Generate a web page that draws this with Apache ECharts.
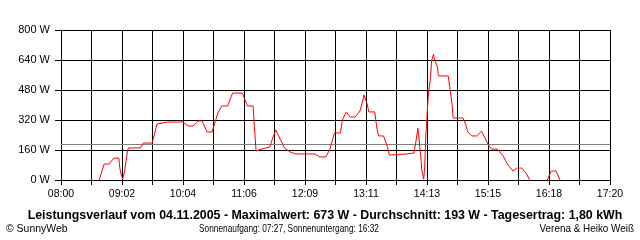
<!DOCTYPE html>
<html>
<head>
<meta charset="utf-8">
<script src="https://cdn.jsdelivr.net/npm/echarts@6/dist/echarts.min.js"></script>
<style>html,body{margin:0;padding:0;background:#fff}#c{width:640px;height:240px}</style>
</head>
<body>
<div id="c"></div>
<script>
// Tick labels on x axis (every second grid line)
var xTickLabels = ['08:00','09:02','10:04','11:06','12:09','13:11','14:13','15:15','16:18','17:20'];
var startMin = 8 * 60, endMin = 17 * 60 + 20, gridSteps = 18;
// Power readings (time, watts); null = gap in the record
var times = ['08:39','08:44','08:49','08:54','08:59','09:00','09:01','09:03','09:05','09:08','09:09','09:21','09:24','09:33','09:38','09:40','09:49','10:04','10:10','10:15','10:20','10:24','10:29','10:34','10:36','10:40','10:44','10:50','10:55','11:05','11:10','11:16','11:17','11:19','11:25','11:33','11:36','11:39','11:43','11:48','11:54','11:59','12:19','12:24','12:30','12:34','12:39','12:45','12:47','12:51','12:55','13:00','13:05','13:08','13:09','13:12','13:14','13:20','13:22','13:24','13:29','13:33','13:35','13:53','14:00','14:02','14:04','14:05','14:07','14:08','14:10','14:11','14:12','14:13','14:14','14:15','14:17','14:18','14:20','14:21','14:24','14:25','14:35','14:37','14:39','14:40','14:50','14:53','14:55','14:59','15:04','15:09','15:12','15:16','15:19','15:25','15:31','15:36','15:41','15:45','15:50','15:55','15:58','16:07','16:16','16:20','16:25','16:29'];
var watts = [0,85,85,117,117,64,37,5,53,160,171,171,197,197,299,304,309,309,288,288,315,315,256,256,288,357,395,395,464,464,395,395,304,155,165,176,224,267,224,171,149,139,139,123,123,160,251,251,320,363,336,336,368,427,453,411,363,363,283,235,235,176,133,139,144,203,277,229,123,53,5,69,224,309,400,469,549,635,672,640,603,555,555,480,400,331,331,293,256,235,235,261,229,187,165,165,128,80,48,64,64,32,0,null,0,48,48,0];
var averageW = 193;
var yTicks = [0,160,320,480,640,800];

function toX(t){var p=t.split(':');var m=(+p[0])*60+(+p[1]);return (m-startMin)*gridSteps/(endMin-startMin);}
var data = times.map(function(t,i){return [toX(t), watts[i]===null?'-':watts[i]];});

var chart = echarts.init(document.getElementById('c'), null, {renderer:'canvas'});
var font = 'Liberation Sans';
chart.setOption({
  animation:false,
  backgroundColor:'#ffffff',
  grid:{left:61,right:30,top:30,bottom:60,show:false},
  xAxis:{type:'value',min:0,max:gridSteps,interval:1,
    axisLine:{lineStyle:{color:'#000',width:1}},
    axisTick:{length:5,lineStyle:{color:'#000'}},
    splitLine:{show:true,lineStyle:{color:'#000',width:1}},
    axisLabel:{color:'#000',fontFamily:font,fontSize:10.5,margin:9,showMinLabel:true,showMaxLabel:true,
      formatter:function(v){var i=Math.round(v);return i%2===0?xTickLabels[i/2]:'';}}
  },
  yAxis:{type:'value',min:yTicks[0],max:yTicks[yTicks.length-1],interval:yTicks[1]-yTicks[0],
    axisLine:{show:true,lineStyle:{color:'#000',width:1}},
    axisTick:{show:true,length:6,lineStyle:{color:'#000'}},
    splitLine:{show:true,lineStyle:{color:'#000',width:1}},
    axisLabel:{color:'#000',fontFamily:font,fontSize:11,margin:11,formatter:'{value} W'}
  },
  series:[{type:'line',data:data,showSymbol:false,connectNulls:false,
    lineStyle:{color:'#ff0000',width:1},itemStyle:{color:'#ff0000'},z:5,
    markLine:{silent:true,symbol:'none',label:{show:false},
      lineStyle:{color:'#808080',width:1,type:'solid'},data:[{yAxis:averageW}]}
  }],
  graphic:[
    {type:'text',x:325,y:216,style:{text:'Leistungsverlauf vom 04.11.2005 - Maximalwert: 673 W - Durchschnitt: 193 W - Tagesertrag: 1,80 kWh',
      font:'bold 12.4px '+font,fill:'#000',textAlign:'center',textVerticalAlign:'middle'}},
    {type:'text',x:6,y:229,scaleX:0.95,style:{text:'© SunnyWeb',font:'11px '+font,fill:'#000',textAlign:'left',textVerticalAlign:'middle'}},
    {type:'text',x:289,y:229,scaleX:0.79,style:{text:'Sonnenaufgang: 07:27, Sonnenuntergang: 16:32',font:'10.5px '+font,fill:'#000',textAlign:'center',textVerticalAlign:'middle'}},
    {type:'text',x:634,y:229,scaleX:0.9,style:{text:'Verena & Heiko Weiß',font:'11px '+font,fill:'#000',textAlign:'right',textVerticalAlign:'middle'}}
  ]
});
</script>
</body>
</html>
